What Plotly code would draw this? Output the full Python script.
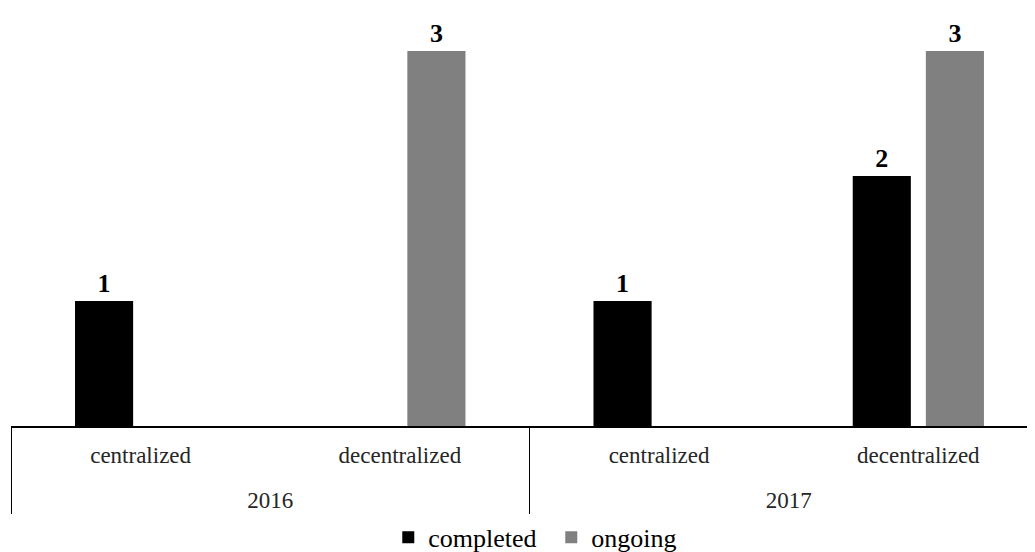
import plotly.graph_objects as go

# data
years = ["2016", "2016", "2017", "2017"]
kinds = ["centralized", "decentralized", "centralized", "decentralized"]
completed = [1, 0, 1, 2]
ongoing = [0, 3, 0, 3]

font_family = "Liberation Serif, Times New Roman, serif"

# tiny second line under the inner labels pushes the year row further down
pad_line = "<br><span style='font-size:1px'>\u00a0</span>"
inner = [k + pad_line for k in kinds]


def labels(vals):
    return [str(v) if v else "" for v in vals]


fig = go.Figure()

fig.add_trace(go.Bar(
    x=[years, inner],
    y=completed,
    name="completed",
    marker=dict(color="#000000", line=dict(width=0)),
    text=labels(completed),
    textposition="outside",
    textfont=dict(family=font_family, size=26, color="#000000", weight="bold"),
    cliponaxis=False,
))

fig.add_trace(go.Bar(
    x=[years, inner],
    y=ongoing,
    name="ongoing",
    marker=dict(color="#808080", line=dict(width=0)),
    text=labels(ongoing),
    textposition="outside",
    textfont=dict(family=font_family, size=26, color="#000000", weight="bold"),
    cliponaxis=False,
))

# page body has an 8px margin, so the figure is drawn 8px smaller
fig.update_layout(
    width=1027,
    height=544,
    barmode="group",
    bargap=0.436,
    bargroupgap=0.205,
    plot_bgcolor="white",
    paper_bgcolor="white",
    font=dict(family=font_family, size=23, color="#262626"),
    margin=dict(l=3, r=0, t=18, b=126, autoexpand=False),
    showlegend=True,
    legend=dict(
        orientation="h",
        x=0.529,
        xanchor="center",
        xref="container",
        y=0.027,
        yanchor="middle",
        yref="container",
        entrywidth=118,
        font=dict(family=font_family, size=26, color="#000000"),
        traceorder="normal",
    ),
    xaxis=dict(
        type="multicategory",
        range=[-0.5, 3.45],
        automargin=False,
        showline=True,
        linecolor="#000000",
        linewidth=2,
        showdividers=True,
        dividercolor="#000000",
        dividerwidth=1,
        ticks="",
        ticklabelstandoff=7,
        showgrid=False,
        tickfont=dict(family=font_family, size=23, color="#262626"),
    ),
    yaxis=dict(
        range=[0, 3.2],
        visible=False,
        showgrid=False,
        zeroline=False,
    ),
)

fig.write_html("out.html")
